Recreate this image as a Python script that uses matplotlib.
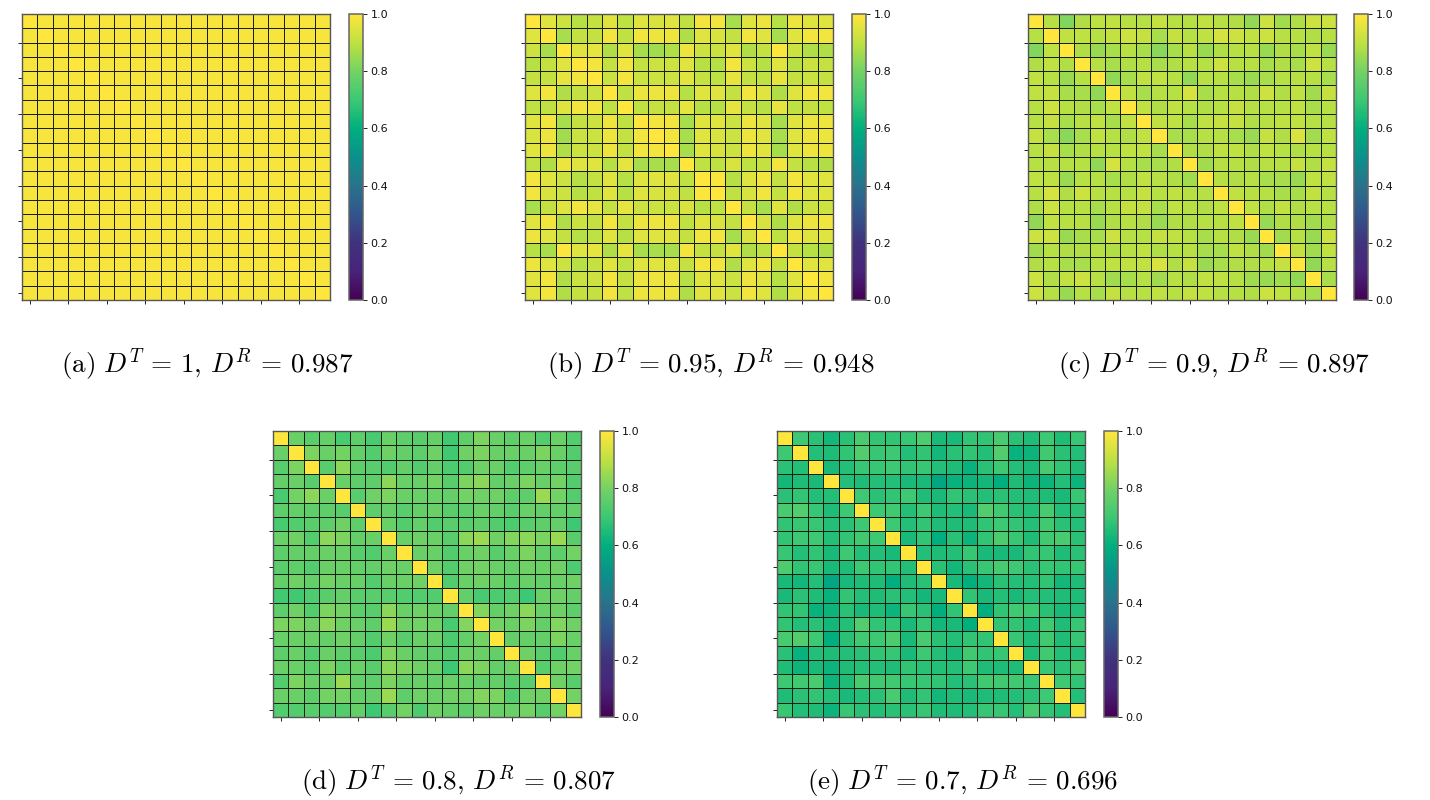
import numpy as np
import matplotlib
matplotlib.use("Agg")
import matplotlib.pyplot as plt
from matplotlib.colors import LinearSegmentedColormap

plt.rcParams['mathtext.fontset'] = 'cm'

A_ROWS = [[1.0] + [0.985] * 19,
 [1.0] + [0.985] * 18, [1.0] + [0.985] * 17, [1.0] + [0.985] * 16, [1.0] + [0.985] * 15,
 [1.0] + [0.985] * 14, [1.0] + [0.985] * 13, [1.0] + [0.985] * 12, [1.0] + [0.985] * 11,
 [1.0] + [0.985] * 10, [1.0] + [0.985] * 9, [1.0] + [0.985] * 8, [1.0] + [0.985] * 7,
 [1.0] + [0.985] * 6, [1.0] + [0.985] * 5, [1.0] + [0.985] * 4, [1.0] + [0.985] * 3,
 [1.0] + [0.985] * 2, [1.0, 0.985], [1.0]]

B_ROWS = [
 [1,.95,.92,.89,.91,.95,.90,.95,.94,.95,.90,.98,.98,.87,.95,.97,.89,.97,.95,.95],
 [1,.87,.91,.91,.98,.90,.98,.97,.97,.88,.95,.94,.91,.98,.95,.87,.95,.98,.98],
 [1,.95,.96,.88,.95,.87,.86,.88,.97,.92,.92,.95,.88,.91,.99,.92,.88,.88],
 [1,.98,.91,.98,.91,.92,.92,.95,.89,.89,.98,.92,.89,.95,.89,.92,.91],
 [1,.92,.98,.92,.92,.92,.95,.91,.90,.96,.91,.90,.96,.91,.92,.91],
 [1,.90,.97,.97,.97,.89,.95,.95,.91,.98,.95,.88,.95,.98,.98],
 [1,.90,.91,.91,.96,.89,.89,.96,.91,.89,.96,.90,.91,.90],
 [1,.98,.98,.87,.95,.95,.92,.97,.95,.87,.95,.97,.97],
 [1,.98,.87,.95,.94,.92,.97,.95,.87,.95,.97,.97],
 [1,.87,.95,.94,.92,.97,.95,.87,.95,.97,.97],
 [1,.90,.90,.94,.90,.91,.98,.91,.89,.88],
 [1,.99,.89,.95,.98,.91,.98,.95,.95],
 [1,.90,.94,.98,.91,.98,.95,.95],
 [1,.91,.87,.95,.88,.92,.92],
 [1,.94,.88,.95,.97,.98],
 [1,.90,.98,.95,.95],
 [1,.91,.89,.88],
 [1,.95,.95],
 [1,.98],
 [1]]

C_ROWS = [
 [1,.89,.82,.88,.90,.90,.89,.89,.91,.89,.89,.90,.89,.88,.84,.92,.86,.88,.92,.92],
 [1,.90,.90,.89,.91,.92,.91,.87,.91,.89,.90,.93,.92,.90,.92,.89,.89,.88,.89],
 [1,.88,.85,.87,.89,.87,.83,.87,.89,.85,.88,.89,.89,.85,.88,.87,.90,.85],
 [1,.89,.87,.88,.89,.87,.88,.89,.89,.92,.89,.89,.87,.88,.87,.92,.89],
 [1,.84,.87,.90,.90,.89,.84,.89,.89,.87,.85,.87,.89,.89,.89,.87],
 [1,.90,.87,.89,.89,.93,.87,.89,.89,.88,.92,.88,.90,.86,.91],
 [1,.90,.88,.90,.89,.88,.89,.91,.89,.89,.89,.90,.87,.89],
 [1,.90,.90,.87,.90,.91,.91,.88,.89,.90,.90,.89,.89],
 [1,.87,.87,.89,.89,.87,.85,.91,.88,.94,.86,.90],
 [1,.88,.88,.90,.90,.88,.90,.89,.88,.89,.89],
 [1,.86,.89,.89,.88,.89,.89,.91,.88,.91],
 [1,.89,.88,.89,.87,.87,.85,.90,.90],
 [1,.90,.89,.89,.87,.87,.90,.89],
 [1,.90,.88,.90,.88,.89,.89],
 [1,.85,.88,.88,.86,.88],
 [1,.86,.89,.85,.92],
 [1,.91,.86,.90],
 [1,.84,.89],
 [1,.87],
 [1]]

D_ROWS = [
 [1,.78,.75,.77,.72,.76,.72,.78,.76,.75,.77,.71,.76,.81,.78,.76,.78,.74,.78,.74],
 [1,.81,.78,.80,.77,.74,.79,.77,.76,.79,.71,.79,.81,.78,.78,.78,.81,.78,.74],
 [1,.75,.83,.76,.75,.74,.77,.74,.77,.73,.74,.79,.78,.74,.76,.78,.76,.75],
 [1,.78,.76,.76,.83,.78,.78,.80,.75,.81,.83,.77,.78,.81,.78,.80,.74],
 [1,.75,.79,.81,.78,.78,.78,.77,.80,.79,.79,.76,.76,.85,.80,.74],
 [1,.76,.77,.75,.77,.78,.75,.76,.78,.77,.75,.78,.77,.77,.77],
 [1,.78,.74,.77,.74,.75,.75,.76,.74,.73,.75,.76,.77,.70],
 [1,.78,.79,.78,.75,.83,.85,.79,.82,.83,.81,.85,.75],
 [1,.78,.78,.74,.78,.79,.75,.78,.81,.77,.76,.80],
 [1,.79,.74,.79,.80,.78,.77,.79,.78,.79,.73],
 [1,.74,.78,.79,.78,.76,.78,.77,.78,.79],
 [1,.77,.72,.73,.74,.70,.78,.79,.77],
 [1,.82,.77,.79,.83,.78,.79,.76],
 [1,.80,.78,.81,.77,.82,.79],
 [1,.77,.77,.77,.81,.78],
 [1,.79,.75,.74,.78],
 [1,.75,.79,.80],
 [1,.79,.75],
 [1,.80],
 [1]]

E_ROWS = [
 [1,.70,.67,.63,.67,.72,.68,.68,.69,.73,.64,.64,.68,.68,.72,.67,.65,.70,.65,.69],
 [1,.66,.65,.68,.74,.69,.70,.66,.68,.63,.67,.68,.66,.74,.61,.62,.71,.67,.66],
 [1,.64,.66,.69,.69,.70,.68,.69,.66,.65,.61,.67,.70,.66,.64,.72,.68,.65],
 [1,.66,.65,.66,.66,.64,.64,.57,.61,.62,.63,.60,.65,.62,.62,.66,.62],
 [1,.70,.67,.68,.70,.65,.64,.68,.67,.66,.67,.66,.65,.65,.64,.69],
 [1,.70,.71,.66,.70,.65,.66,.64,.74,.71,.67,.66,.72,.66,.67],
 [1,.70,.66,.68,.65,.65,.65,.68,.70,.68,.66,.71,.67,.66],
 [1,.64,.68,.60,.67,.62,.68,.73,.69,.65,.71,.72,.67],
 [1,.66,.65,.66,.69,.64,.64,.64,.68,.69,.65,.67],
 [1,.67,.63,.67,.69,.72,.70,.67,.69,.68,.69],
 [1,.64,.60,.63,.67,.66,.66,.68,.63,.65],
 [1,.68,.64,.66,.64,.66,.66,.65,.65],
 [1,.60,.68,.71,.70,.67,.64,.66],
 [1,.68,.68,.65,.71,.65,.69],
 [1,.69,.65,.71,.65,.69],
 [1,.65,.71,.66,.66],
 [1,.69,.67,.72],
 [1,.70,.68],
 [1,.66],
 [1]]

CAPTIONS = [r"$\mathrm{(a)}\ D^T\,=\,1,\,D^R\,=\,0.987$",
            r"$\mathrm{(b)}\ D^T\,=\,0.95,\,D^R\,=\,0.948$",
            r"$\mathrm{(c)}\ D^T\,=\,0.9,\,D^R\,=\,0.897$",
            r"$\mathrm{(d)}\ D^T\,=\,0.8,\,D^R\,=\,0.807$",
            r"$\mathrm{(e)}\ D^T\,=\,0.7,\,D^R\,=\,0.696$"]
CBAR_TICKS = [0.0, 0.2, 0.4, 0.6, 0.8, 1.0]
# colours of the reference colour bar, bottom to top
CMAP_COLORS = ['#440154', '#48247a', '#41327d', '#32558c', '#28738c', '#0a918c',
               '#00af7d', '#3cc873', '#73d264', '#bee141', '#ffe63c']

W, H = 1430, 800
PANELS = [(22, 14, 349, 207, 365), (525, 14, 852, 711, 365), (1028, 14, 1354, 1214, 365),
          (273, 431, 600, 459, 782), (777, 431, 1104, 963, 782)]


def sym(rows):
    n = len(rows)
    m = np.zeros((n, n))
    for i, r in enumerate(rows):
        for j, v in enumerate(r):
            m[i, i + j] = v
            m[i + j, i] = v
    return m


cmap = LinearSegmentedColormap.from_list('ref_viridis', CMAP_COLORS, N=256)
fig = plt.figure(figsize=(W / 100, H / 100), dpi=100)
edges = np.arange(21) - 0.5
for rows, cap, (x, y, cx, tx, ty) in zip([A_ROWS, B_ROWS, C_ROWS, D_ROWS, E_ROWS], CAPTIONS, PANELS):
    ax = fig.add_axes([x / W, 1 - (y + 286) / H, 308 / W, 286 / H])
    mesh = ax.pcolormesh(edges, edges, sym(rows), cmap=cmap, vmin=0, vmax=1,
                         edgecolors='#1a1f14', linewidth=0.55)
    ax.set_xlim(-0.5, 19.5)
    ax.set_ylim(19.5, -0.5)
    ax.set_xticks(np.arange(0, 19, 2.5))
    ax.set_yticks(19 - np.arange(0, 19, 2.5))
    ax.set_xticklabels([])
    ax.set_yticklabels([])
    ax.tick_params(length=3, width=0.7, color='#222222')
    for s in ax.spines.values():
        s.set_linewidth(1.0)
        s.set_color('#555555')
    cax = fig.add_axes([cx / W, 1 - (y + 286) / H, 14 / W, 286 / H])
    cb = fig.colorbar(mesh, cax=cax, ticks=CBAR_TICKS)
    cb.ax.tick_params(labelsize=8, length=3, width=0.7, pad=2.5, color='#222222', labelcolor='#111111')
    cb.ax.set_yticklabels([f"{t:.1f}" for t in CBAR_TICKS])
    cb.outline.set_linewidth(1.1)
    cb.outline.set_edgecolor('#666666')
    fig.text(tx / W, 1 - ty / H, cap, ha='center', va='center', fontsize=19.5, color='black')

fig.savefig('out.png', dpi=100)
